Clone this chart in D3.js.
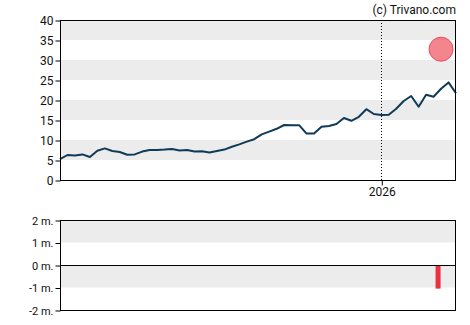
<!DOCTYPE html>
<html><head><meta charset="utf-8">
<script src="https://cdn.jsdelivr.net/npm/d3@7"></script>
<style>body{margin:0;background:#fff}svg{display:block}text{font-family:Roboto,"Liberation Sans",Arial,sans-serif}</style>
</head><body><svg id="c" width="470" height="325"></svg>
<script>
// weekly price series (first week starts 2025-03-06)
const startDate = new Date(2025, 2, 6);
const prices = [5.2,6.25,6.1,6.4,5.75,7.3,7.9,7.25,7.0,6.3,
  6.4,7.1,7.5,7.5,7.6,7.75,7.4,7.5,7.1,7.2,
  6.9,7.25,7.6,8.3,8.9,9.6,10.2,11.4,12.1,12.8,
  13.75,13.7,13.7,11.6,11.6,13.3,13.5,14.0,15.5,14.8,
  15.8,17.7,16.5,16.25,16.3,17.8,19.75,21,18.3,21.3,
  20.8,22.8,24.4,21.7];
const targetIndex = [51];
const targetValue = [32.7];
const barIndex = [50.6];
const barValue = [-1.05];
const yTicksTop = [0,5,10,15,20,25,30,35,40];
const yTicksBottom = [-2,-1,0,1,2];
const yLabelsBottom = ["-2 m.","-1 m.","0 m.","1 m.","2 m."];
const xTickDates = [new Date(2026,0,1)];
const xTickLabels = ["2026"];
const credit = "(c) Trivano.com";

const dates = prices.map((_, i) => d3.timeDay.offset(startDate, 7 * i));
const svg = d3.select("#c");
const L = 60, R = 456;
const x = d3.scaleTime().domain(d3.extent(dates)).range([L, R]);
const yT = d3.scaleLinear().domain([0, 40]).range([180, 20]);
const yB = d3.scaleLinear().domain([-2, 2]).range([310, 220]);
const idxDate = i => new Date(startDate.getTime() + i * 7 * 864e5);

// bands top
[[35,40],[25,30],[15,20],[5,10]].forEach(b => {
  svg.append("rect").attr("x", L).attr("width", R - L)
    .attr("y", yT(b[1])).attr("height", yT(b[0]) - yT(b[1])).attr("fill", "#ececec");
});
[[1,2],[-1,0]].forEach(b => {
  svg.append("rect").attr("x", L).attr("width", R - L)
    .attr("y", yB(b[1])).attr("height", yB(b[0]) - yB(b[1])).attr("fill", "#ececec");
});

// dotted line at 2026
svg.append("line").attr("x1", Math.round(x(xTickDates[0])) + 0.5).attr("x2", Math.round(x(xTickDates[0])) + 0.5)
  .attr("y1", 20).attr("y2", 180).attr("stroke", "#000").attr("stroke-dasharray", "1,2");

// price line
svg.append("path").datum(prices)
  .attr("d", d3.line().x((d, i) => x(dates[i])).y(d => yT(d)))
  .attr("fill", "none").attr("stroke", "#0f3a58").attr("stroke-width", 2).attr("stroke-linejoin", "round");

// target circle
svg.append("circle").attr("cx", x(idxDate(targetIndex[0]))).attr("cy", yT(targetValue[0])).attr("r", 12)
  .attr("fill", "rgba(240,80,92,0.7)").attr("stroke", "#e8505b").attr("stroke-width", 1);

// bar
svg.append("rect").attr("x", x(idxDate(barIndex[0])) - 2.5).attr("width", 5)
  .attr("y", yB(0)).attr("height", yB(barValue[0]) - yB(0)).attr("fill", "#e8323f");

// frames
svg.append("rect").attr("x", L + 0.5).attr("y", 20.5).attr("width", R - L - 1).attr("height", 160)
  .attr("fill", "none").attr("stroke", "#000");
svg.append("rect").attr("x", L + 0.5).attr("y", 220.5).attr("width", R - L - 1).attr("height", 90)
  .attr("fill", "none").attr("stroke", "#000");
svg.append("line").attr("x1", L).attr("x2", R - 1).attr("y1", yB(0) + 0.5).attr("y2", yB(0) + 0.5).attr("stroke", "#000");

// axes
const ayT = svg.append("g").attr("transform", `translate(${L + 0.5},0.5)`)
  .call(d3.axisLeft(yT).tickValues(yTicksTop).tickSize(5).tickPadding(2));
const ayB = svg.append("g").attr("transform", `translate(${L + 0.5},0.5)`)
  .call(d3.axisLeft(yB).tickValues(yTicksBottom).tickSize(5).tickPadding(2)
    .tickFormat((d, i) => yLabelsBottom[i]));
const ax = svg.append("g").attr("transform", `translate(0.5,180.5)`)
  .call(d3.axisBottom(x).tickValues(xTickDates).tickSize(5).tickPadding(2)
    .tickFormat((d, i) => xTickLabels[i]));
[ayT, ayB, ax].forEach(g => {
  g.select(".domain").remove();
  g.selectAll("line").attr("stroke", "#000");
  g.selectAll("text").attr("fill", "#111").style("font-family", "Roboto,'Liberation Sans',sans-serif");
});
ayT.selectAll("text").attr("font-size", 12);
ax.selectAll("text").attr("font-size", 12);
ayB.selectAll("text").attr("font-size", 11);

svg.append("text").attr("x", R).attr("y", 14).attr("text-anchor", "end")
  .attr("font-size", 12).attr("fill", "#111").text(credit);
</script></body></html>
